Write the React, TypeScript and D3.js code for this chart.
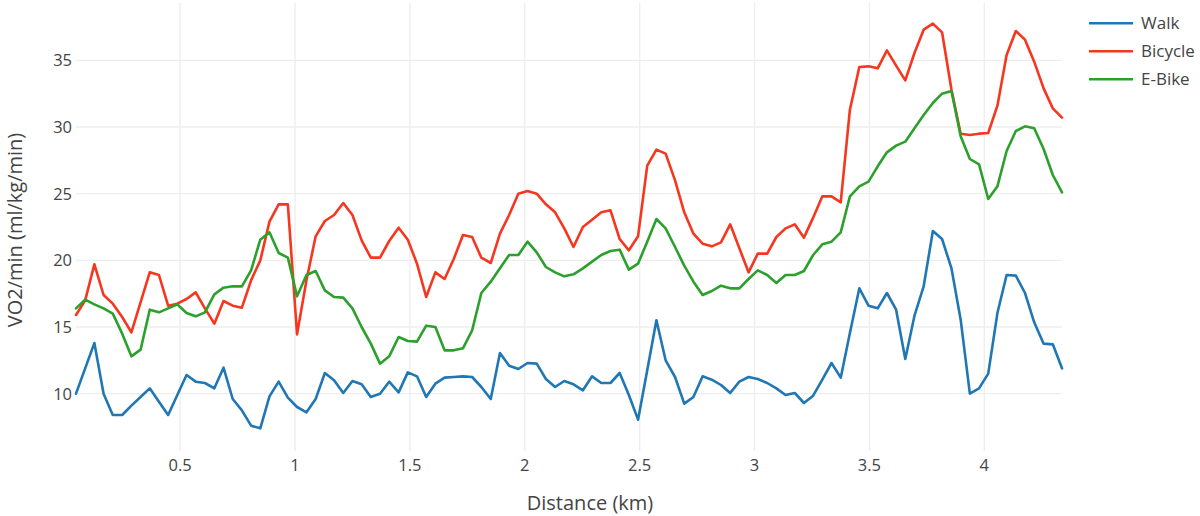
import React from 'react';
import * as d3 from 'd3';

const distance = [
  0.047, 0.087, 0.127, 0.167, 0.207, 0.248, 0.288, 0.328, 0.368, 0.408,
  0.448, 0.488, 0.528, 0.568, 0.608, 0.649, 0.689, 0.729, 0.769, 0.809,
  0.849, 0.889, 0.929, 0.969, 1.009, 1.050, 1.090, 1.130, 1.170, 1.210,
  1.250, 1.290, 1.330, 1.370, 1.410, 1.451, 1.491, 1.531, 1.571, 1.611,
  1.651, 1.691, 1.731, 1.771, 1.811, 1.852, 1.892, 1.932, 1.972, 2.012,
  2.052, 2.092, 2.132, 2.172, 2.212, 2.253, 2.293, 2.333, 2.373, 2.413,
  2.453, 2.493, 2.533, 2.573, 2.613, 2.654, 2.694, 2.734, 2.774, 2.814,
  2.854, 2.894, 2.934, 2.974, 3.014, 3.055, 3.095, 3.135, 3.175, 3.215,
  3.255, 3.295, 3.335, 3.375, 3.415, 3.456, 3.496, 3.536, 3.576, 3.616,
  3.656, 3.696, 3.736, 3.776, 3.816, 3.857, 3.897, 3.937, 3.977, 4.017,
  4.057, 4.097, 4.137, 4.177, 4.217, 4.258, 4.298, 4.338,
];

const walk = [
  10.0, 11.9, 13.8, 10.0, 8.4, 8.4, 9.1, 9.75, 10.4, 9.4,
  8.4, 9.9, 11.4, 10.9, 10.8, 10.4, 11.95, 9.6, 8.75, 7.6,
  7.4, 9.8, 10.9, 9.7, 9.0, 8.6, 9.6, 11.55, 11.0, 10.05,
  10.95, 10.7, 9.75, 10.0, 10.9, 10.1, 11.6, 11.3, 9.75, 10.75,
  11.2, 11.25, 11.3, 11.25, 10.5, 9.6, 13.05, 12.1, 11.85, 12.3,
  12.25, 11.1, 10.5, 10.95, 10.7, 10.25, 11.3, 10.8, 10.8, 11.55,
  9.9, 8.05, 11.75, 15.5, 12.5, 11.25, 9.25, 9.75, 11.3, 11.05,
  10.65, 10.05, 10.9, 11.25, 11.1, 10.8, 10.4, 9.9, 10.05, 9.3,
  9.85, 11.05, 12.3, 11.2, 14.55, 17.9, 16.6, 16.4, 17.55, 16.3,
  12.6, 15.85, 18.05, 22.2, 21.6, 19.4, 15.55, 10.0, 10.4, 11.5,
  16.05, 18.9, 18.85, 17.55, 15.35, 13.75, 13.7, 11.9,
];

const bicycle = [
  15.9, 17.0, 19.7, 17.4, 16.75, 15.75, 14.6, 16.85, 19.1, 18.9,
  16.6, 16.75, 17.1, 17.6, 16.4, 15.25, 16.95, 16.6, 16.45, 18.5,
  20.0, 22.9, 24.2, 24.2, 14.45, 18.5, 21.8, 22.95, 23.4, 24.3,
  23.4, 21.5, 20.2, 20.2, 21.45, 22.45, 21.55, 19.75, 17.25, 19.1,
  18.6, 20.1, 21.9, 21.75, 20.2, 19.8, 22.0, 23.4, 25.0, 25.2,
  25.0, 24.2, 23.6, 22.4, 21.0, 22.5, 23.05, 23.6, 23.75, 21.6,
  20.75, 21.8, 27.1, 28.3, 28.0, 26.0, 23.6, 22.0, 21.25, 21.05,
  21.35, 22.7, 20.9, 19.1, 20.5, 20.5, 21.75, 22.4, 22.7, 21.7,
  23.2, 24.8, 24.8, 24.35, 31.3, 34.5, 34.55, 34.4, 35.75, 34.6,
  33.5, 35.55, 37.3, 37.75, 37.1, 32.8, 29.5, 29.4, 29.5, 29.55,
  31.6, 35.4, 37.2, 36.55, 34.9, 32.9, 31.4, 30.7,
];

const ebike = [
  16.4, 17.05, 16.7, 16.4, 16.0, 14.5, 12.8, 13.3, 16.3, 16.1,
  16.4, 16.7, 16.05, 15.8, 16.1, 17.45, 17.95, 18.05, 18.05, 19.25,
  21.55, 22.1, 20.55, 20.2, 17.3, 18.9, 19.2, 17.75, 17.25, 17.2,
  16.4, 15.0, 13.75, 12.25, 12.8, 14.25, 13.95, 13.9, 15.1, 15.0,
  13.25, 13.25, 13.4, 14.75, 17.55, 18.4, 19.4, 20.4, 20.4, 21.4,
  20.6, 19.5, 19.1, 18.8, 18.95, 19.4, 19.9, 20.4, 20.7, 20.8,
  19.3, 19.75, 21.4, 23.1, 22.4, 21.0, 19.6, 18.4, 17.4, 17.7,
  18.1, 17.9, 17.9, 18.6, 19.25, 18.9, 18.3, 18.9, 18.9, 19.2,
  20.4, 21.2, 21.4, 22.1, 24.8, 25.55, 25.9, 27.05, 28.1, 28.6,
  28.9, 29.9, 30.9, 31.8, 32.5, 32.7, 29.3, 27.6, 27.2, 24.6,
  25.55, 28.2, 29.7, 30.05, 29.9, 28.35, 26.4, 25.1,
];

const xTicks = [0.5, 1, 1.5, 2, 2.5, 3, 3.5, 4];
const yTicks = [10, 15, 20, 25, 30, 35];
const seriesNames = ['Walk', 'Bicycle', 'E-Bike'];
const seriesColors = ['#1f77b4', '#f6361f', '#2ca02c'];
const seriesValues = [walk, bicycle, ebike];

const W = 1200;
const H = 516;
const FONT = '"Open Sans", "DejaVu Sans", sans-serif';
const TEXT = '#444';

export default function App() {
  const x = d3
    .scaleLinear()
    .domain([d3.min(distance) as number, d3.max(distance) as number])
    .range([76, 1062]);
  const y = d3.scaleLinear().domain([5.7, 39.3]).range([451, 3]);
  const [top, bottom] = [3, 451];
  const [left, right] = x.range();

  const line = d3
    .line<number>()
    .x((_, i) => x(distance[i]))
    .y((d) => y(d));

  return (
    <svg
      width={W}
      height={H}
      style={{ position: 'fixed', left: 0, top: 0, background: '#fff' }}
      fontFamily={FONT}
    >
      <rect x={0} y={0} width={W} height={H} fill="#fff" />
      {xTicks.map((t) => (
        <line key={'gx' + t} x1={x(t)} x2={x(t)} y1={top} y2={bottom} stroke="#eee" strokeWidth={1.4} />
      ))}
      {yTicks.map((t) => (
        <line key={'gy' + t} x1={left} x2={right} y1={y(t)} y2={y(t)} stroke="#eee" strokeWidth={1.4} />
      ))}
      {seriesValues.map((vals, i) => (
        <path
          key={seriesNames[i]}
          d={line(vals) || ''}
          fill="none"
          stroke={seriesColors[i]}
          strokeWidth={2.6}
          strokeLinejoin="round"
          strokeLinecap="round"
        />
      ))}
      {xTicks.map((t) => (
        <text key={'tx' + t} x={x(t)} y={471} textAnchor="middle" fontSize={16.5} fill={TEXT}>
          {String(t)}
        </text>
      ))}
      {yTicks.map((t) => (
        <text key={'ty' + t} x={72} y={y(t) + 6} textAnchor="end" fontSize={16.5} fill={TEXT}>
          {String(t)}
        </text>
      ))}
      <text x={590} y={510} textAnchor="middle" fontSize={20} fill={TEXT}>
        Distance (km)
      </text>
      <text
        transform={`translate(21.5, 230) rotate(-90)`}
        textAnchor="middle"
        fontSize={20}
        fill={TEXT}
      >
        VO2/min (ml/kg/min)
      </text>
      {seriesNames.map((name, i) => (
        <g key={'lg' + name} transform={`translate(1089, ${23.3 + i * 28})`}>
          <line x1={0} x2={44} y1={0} y2={0} stroke={seriesColors[i]} strokeWidth={2.6} />
          <text x={52} y={6} fontSize={17} fill={TEXT}>
            {name}
          </text>
        </g>
      ))}
    </svg>
  );
}
